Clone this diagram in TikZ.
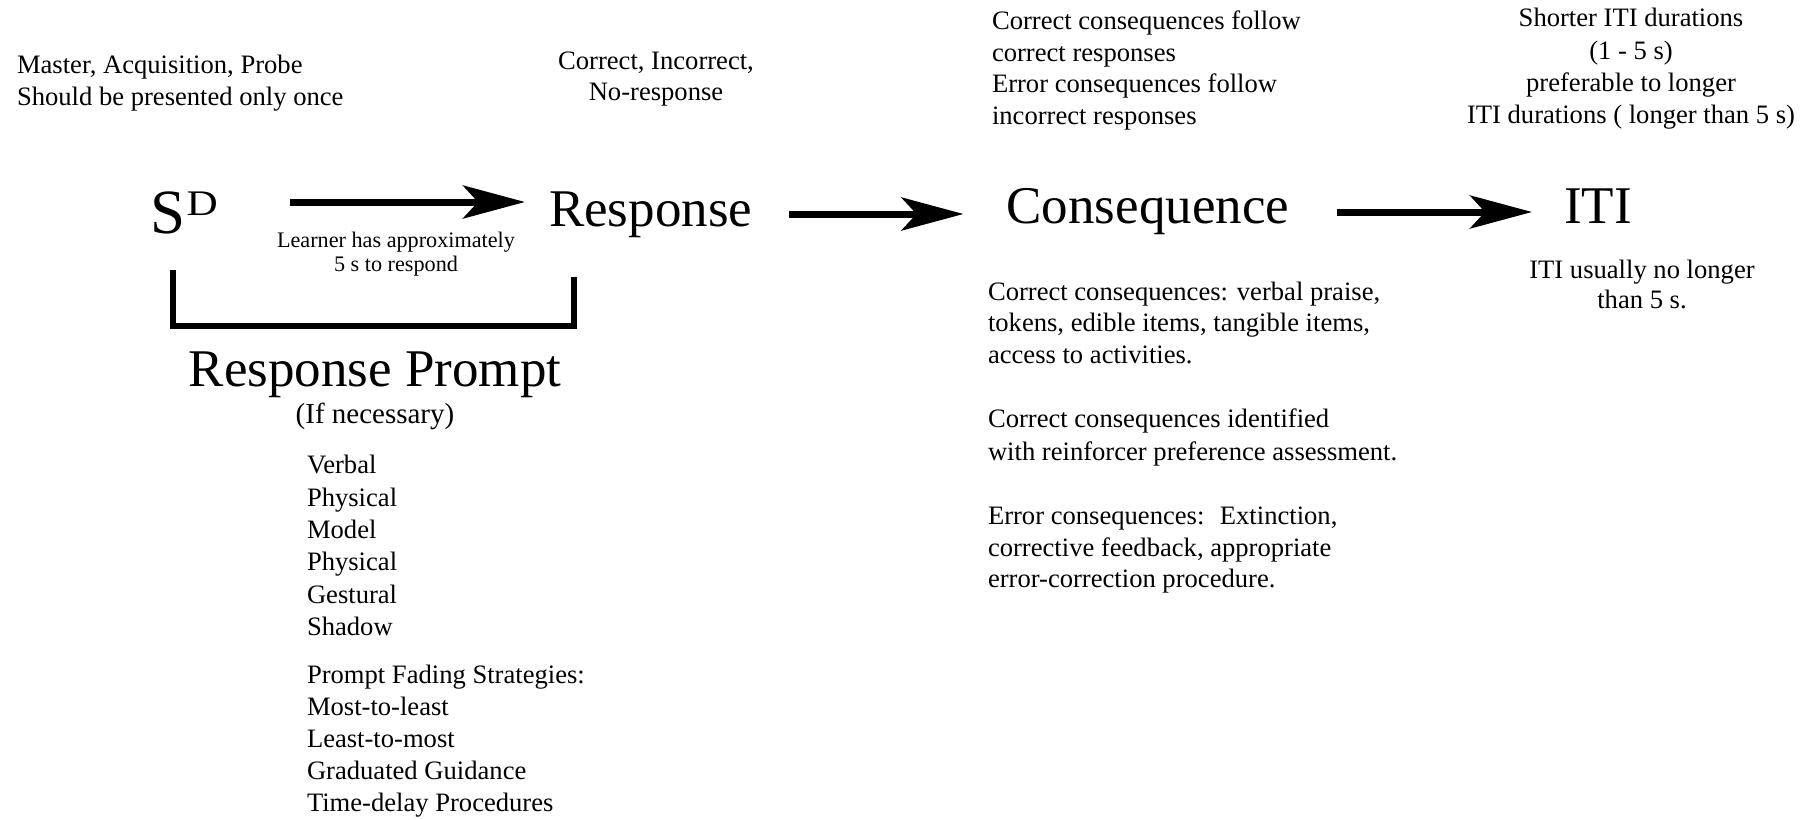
\documentclass[tikz,border=0pt]{standalone}
\usepackage{fontspec}
\usepackage{graphicx}
\setmainfont{Liberation Serif}
\usetikzlibrary{arrows.meta}
\newcommand\fsm{\fontsize{26.6}{32}\selectfont}
\newcommand\fbig{\fontsize{53}{60}\selectfont}
\newcommand\fpar{\fontsize{29}{32}\selectfont}
\newcommand\flr{\fontsize{22.2}{25}\selectfont}
\tikzset{
  txt/.style={inner sep=0pt, outer sep=0pt, anchor=base west, font=\fsm},
  ctxt/.style={inner sep=0pt, outer sep=0pt, anchor=base, font=\fsm},
  bigtxt/.style={inner sep=0pt, outer sep=0pt, anchor=base west, font=\fbig},
  arr/.style={line width=7pt, -{Stealth[length=62pt, width=33pt, inset=15pt]}, line join=miter},
  brk/.style={line width=6pt, line join=miter}
}
\begin{document}
\begin{tikzpicture}[x=1pt,y=-1pt]
\useasboundingbox (0,0) rectangle (1819,819);
\fill[white] (0,0) rectangle (1819,819);

% top notes
\node[txt] (mas1) at (17,73) {Master, Acquisition, Probe};
\node[txt] (mas2) at (17,105) {Should be presented only once};
\node[ctxt] (cor1) at (656,69) {Correct, Incorrect,};
\node[ctxt] (cor2) at (656,100) {No-response};
\node[txt] (cf1) at (992,29.5) {Correct consequences follow};
\node[txt] (cf2) at (992,61) {correct responses};
\node[txt] (cf3) at (992,92.5) {Error consequences follow};
\node[txt] (cf4) at (992,124) {incorrect responses};
\node[ctxt] (sh1) at (1631,27) {Shorter ITI durations};
\node[ctxt] (sh2) at (1631,59) {(1 - 5 s)};
\node[ctxt] (sh3) at (1631,91) {preferable to longer};
\node[ctxt] (sh4) at (1631,123) {ITI durations ( longer than 5 s)};

% main terms
\node[bigtxt] (sd) at (150.5,233) {\fontsize{63}{63}\selectfont S\kern1pt\raisebox{18pt}{\fontsize{36}{36}\selectfont\scalebox{1.2}[1]{D}}};
\node[bigtxt] (resp) at (549,226) {Response};
\node[bigtxt] (cons) at (1006.5,223) {Consequence};
\node[bigtxt] (iti) at (1564,223) {ITI};

% arrows
\draw[arr, shorten <=72pt, shorten >=24pt] (sd.east |- 0,202) -- (resp.west |- 0,202);
\draw[arr, shorten <=37pt, shorten >=43pt] (resp.east |- 0,214) -- (cons.west |- 0,214);
\draw[arr, shorten <=48pt, shorten >=32pt] (cons.east |- 0,212) -- (iti.west |- 0,212);

% arrow label
\node[ctxt, font=\flr] (lr1) at (396,247) {Learner has approximately};
\node[ctxt, font=\flr] (lr2) at (396,271) {5 s to respond};

% ITI note
\node[ctxt] (iu1) at (1642,278) {ITI usually no longer};
\node[ctxt] (iu2) at (1642,308) {than 5 s.};

% bracket
\coordinate (b1) at (173,270);
\coordinate (b2) at (173,326);
\coordinate (b3) at (574,326);
\coordinate (b4) at (574,277);
\draw[brk] (b1) -- (b2) -- (b3) -- (b4);

% response prompt
\node[ctxt, font=\fbig] (rp) at (375,386) {Response Prompt};
\node[ctxt, font=\fpar] (ifn) at (375,423) {(If necessary)};
\foreach \t/\yy [count=\i] in {Verbal/473, Physical/506, Model/538, Physical/570, Gestural/603, Shadow/635,
  Prompt Fading Strategies:/683, Most-to-least/715, Least-to-most/747, Graduated Guidance/779, Time-delay Procedures/811}
  \node[txt] (pl\i) at (307,\yy) {\t};

% consequence details
\node[txt] (cd1) at (988,300) {Correct consequences: verbal praise,};
\node[txt] (cd2) at (988,331) {tokens, edible items, tangible items,};
\node[txt] (cd3) at (988,363) {access to activities.};
\node[txt] (cd4) at (988,427) {Correct consequences identified};
\node[txt] (cd5) at (988,460) {with reinforcer preference assessment.};
\node[txt] (cd6) at (988,524) {Error consequences:~ Extinction,};
\node[txt] (cd7) at (988,556) {corrective feedback, appropriate};
\node[txt] (cd8) at (988,587) {error-correction procedure.};
\end{tikzpicture}
\end{document}
